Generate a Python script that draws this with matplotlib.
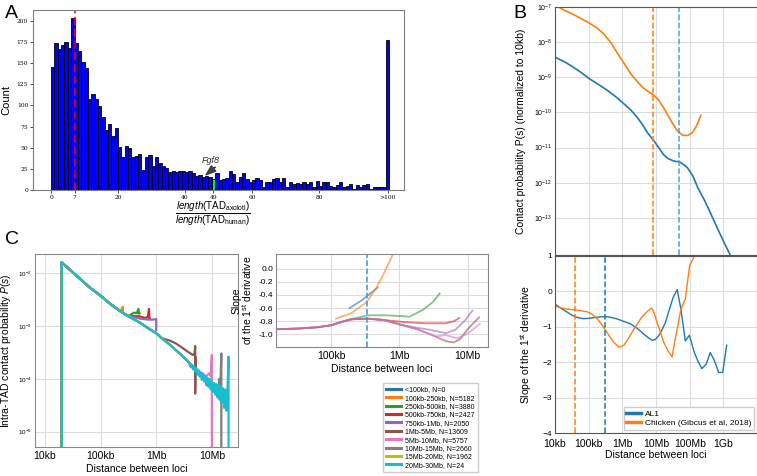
import numpy as np
import matplotlib.pyplot as plt
from matplotlib.ticker import NullLocator

plt.rcParams['font.family'] = ['Liberation Sans', 'DejaVu Sans']
plt.rcParams['mathtext.fontset'] = 'custom'
plt.rcParams['mathtext.rm'] = 'Liberation Sans'
plt.rcParams['mathtext.it'] = 'Liberation Sans:italic'

# ---- panel A: histogram of TAD length ratios (bin i = [i, i+1), last = >100)
counts_a = [146, 174, 167, 171, 175, 168, 203, 174, 164, 151,
            144, 108, 114, 108, 99, 86, 71, 78, 64, 73,
            51, 39, 52, 50, 39, 40, 43, 24, 39, 41,
            28, 39, 32, 28, 26, 21, 23, 21, 23, 22,
            21, 22, 20, 16, 18, 15, 17, 15, 13, 20,
            12, 13, 14, 22, 19, 9, 15, 20, 13, 9,
            12, 14, 12, 3, 9, 10, 13, 14, 9, 14,
            4, 10, 7, 8, 7, 9, 7, 9, 4, 11,
            5, 9, 10, 5, 4, 6, 9, 3, 5, 7,
            1, 6, 3, 6, 7, 1, 3, 3, 3, 3,
            177]
fgf8_bin = 48
median_ratio = 7
a_ticks = [0, 7, 20, 40, 48.5, 60, 80, 100.5]
a_ticklabels = ['0', '7', '20', '40', '49', '60', '80', '>100']

# ---- panel B: P(s) curves (log10 distance, log10 P)
b_al1_x = [4.0, 4.3, 4.54, 4.8, 5.0, 5.3, 5.55, 5.8, 6.03, 6.25, 6.44, 6.6, 6.74, 6.93, 7.1,
           7.22, 7.35, 7.49, 7.6, 7.68, 7.8, 7.93, 8.1, 8.24, 8.45, 8.63, 8.8, 9.0, 9.2]
b_al1_y = [-8.43, -8.57, -8.71, -8.88, -9.03, -9.21, -9.37, -9.55, -9.74, -9.93, -10.14, -10.35,
           -10.57, -10.8, -11.03, -11.2, -11.31, -11.37, -11.4, -11.4, -11.47, -11.57, -11.82,
           -12.14, -12.52, -12.89, -13.25, -13.66, -14.05]
b_chk_x = [4.0, 4.3, 4.6, 4.85, 5.04, 5.25, 5.43, 5.65, 5.85, 6.05, 6.24, 6.45, 6.63, 6.8,
           6.93, 7.08, 7.22, 7.35, 7.49, 7.6, 7.68, 7.8, 7.93, 8.05, 8.13, 8.23, 8.33]
b_chk_y = [-6.95, -7.1, -7.24, -7.37, -7.47, -7.6, -7.75, -8.0, -8.31, -8.6, -8.89, -9.13,
           -9.31, -9.43, -9.51, -9.65, -9.86, -10.08, -10.31, -10.48, -10.57, -10.65, -10.66,
           -10.6, -10.51, -10.33, -10.09]
b_al1_mark_top, b_chk_mark_top = 7.67, 6.90

# slope of the first derivative
b_al1_sx = [4.0, 4.2, 4.37, 4.52, 4.67, 4.85, 5.01, 5.25, 5.46, 5.65, 5.85, 6.05, 6.25, 6.45,
            6.64, 6.8, 6.89, 6.98, 7.08, 7.18, 7.28, 7.4, 7.51, 7.63, 7.74, 7.87, 7.99, 8.14,
            8.25, 8.36, 8.49, 8.61, 8.73, 8.86, 8.98, 9.1]
b_al1_sy = [-0.36, -0.49, -0.59, -0.68, -0.74, -0.77, -0.76, -0.73, -0.71, -0.73, -0.78,
            -0.85, -0.92, -1.05, -1.21, -1.33, -1.38, -1.36, -1.25, -1.08, -0.88, -0.5,
            -0.17, 0.05, -0.5, -1.4, -1.24, -1.73, -1.98, -2.18, -2.06, -1.73, -1.94, -2.29,
            -2.29, -1.52]
b_chk_sx = [4.0, 4.2, 4.37, 4.67, 4.97, 5.12, 5.26, 5.4, 5.51, 5.63, 5.75, 5.9, 6.05, 6.2,
            6.34, 6.47, 6.59, 6.75, 6.87, 6.95, 7.03, 7.13, 7.23, 7.35, 7.48, 7.55, 7.63,
            7.74, 7.87, 7.94, 8.0, 8.12, 8.2]
b_chk_sy = [-0.42, -0.47, -0.5, -0.53, -0.58, -0.66, -0.78, -0.95, -1.11, -1.28, -1.44,
            -1.58, -1.52, -1.3, -1.07, -0.88, -0.71, -0.56, -0.47, -0.62, -0.88, -1.15,
            -1.44, -1.67, -1.85, -1.45, -1.07, -0.5, -0.22, 0.3, 0.73, 0.96, 1.2]
b_al1_mark_bot, b_chk_mark_bot = 5.49, 4.60
b_xticks = [4, 5, 6, 7, 8, 9]
b_xlabels = ['10kb', '100kb', '1Mb', '10Mb', '100Mb', '1Gb']

# ---- panel C: intra-TAD P(s) per TAD size class (log10 distance, log10 P)
c_names = ['<100kb, N=0', '100kb-250kb, N=5182', '250kb-500kb, N=3880', '500kb-750kb, N=2427',
           '750kb-1Mb, N=2050', '1Mb-5Mb, N=13609', '5Mb-10Mb, N=5757', '10Mb-15Mb, N=2660',
           '15Mb-20Mb, N=1962', '20Mb-30Mb, N=24']
c_colors = ['#1f77b4', '#ff7f0e', '#2ca02c', '#d62728', '#9467bd',
            '#8c564b', '#e377c2', '#7f7f7f', '#bcbd22', '#17becf']
base_x = [4.30, 4.30, 4.45, 4.63, 4.8, 5.0, 5.17, 5.35, 5.52, 5.71, 5.85, 6.0, 6.12, 6.25,
          6.4, 6.55]
base_y = [-5.5, -1.80, -1.94, -2.11, -2.27, -2.43, -2.58, -2.72, -2.83, -2.94, -3.04, -3.14,
          -3.25, -3.36, -3.5, -3.65]
c_tail_x = [
    [],
    [5.37, 5.40, 5.40],
    [5.52, 5.6, 5.65, 5.68, 5.685, 5.70],
    [5.52, 5.7, 5.8, 5.85, 5.87, 5.875, 5.88],
    [5.52, 5.7, 5.85, 5.95, 6.0, 6.0],
    [6.12, 6.25, 6.35, 6.45, 6.57, 6.66, 6.69, 6.70, 6.70, 6.71],
    [6.7, 6.8, 6.9, 6.95, 6.98, 7.0, 7.0],
    [6.7, 6.85, 7.0, 7.1, 7.13, 7.135, 7.15, 7.17, 7.17],
    [6.7, 6.85, 7.0, 7.15, 7.3],
    [6.60, 6.62, 6.64, 6.66, 6.68, 6.70, 6.72, 6.74, 6.76, 6.78, 6.80, 6.82, 6.84, 6.86,
     6.88, 6.90, 6.92, 6.94, 6.96, 6.98, 7.00, 7.02, 7.04, 7.06, 7.08, 7.10, 7.12, 7.14,
     7.16, 7.18, 7.20, 7.22, 7.24, 7.26, 7.28, 7.30, 7.30],
]
c_tail_y = [
    [],
    [-2.70, -2.64, -2.70],
    [-2.80, -2.75, -2.76, -2.68, -2.77, -2.76],
    [-2.81, -2.82, -2.85, -2.83, -2.68, -2.87, -2.86],
    [-2.81, -2.86, -2.88, -2.88, -2.87, -3.08],
    [-3.24, -3.28, -3.33, -3.40, -3.49, -3.55, -3.52, -3.38, -4.28, -3.6],
    [-3.8, -3.88, -3.95, -3.90, -3.95, -3.55, -5.5],
    [-3.8, -3.95, -4.12, -4.25, -4.15, -4.0, -4.3, -3.52, -5.5],
    [-3.82, -3.98, -4.16, -4.3, -4.38],
    [-3.72, -3.78, -3.74, -3.82, -3.77, -3.86, -3.80, -3.92, -3.84, -3.96, -3.88, -4.02,
     -3.90, -4.05, -3.95, -4.12, -3.98, -4.15, -4.00, -4.20, -4.05, -4.25, -4.08, -4.30,
     -4.10, -4.35, -4.12, -4.40, -4.15, -4.45, -4.18, -4.55, -4.20, -4.60, -4.25, -3.58,
     -5.5],
]
c_base_len = [0, 8, 9, 9, 9, 13, 16, 16, 16, 16]

# slopes (log10 distance, slope)
cs_base_x = [4.21, 4.52, 4.8, 5.0, 5.15, 5.29, 5.53, 5.77, 6.05, 6.29, 6.53]
cs_base_y = [-0.92, -0.91, -0.89, -0.86, -0.81, -0.77, -0.76, -0.78, -0.86, -0.93, -1.03]
cs_x = [
    [5.27, 5.45, 5.68],
    [5.07, 5.29, 5.52, 5.67, 5.77, 5.88, 5.92],
    [5.25, 5.53, 5.81, 6.0, 6.15, 6.34, 6.49, 6.59],
    [6.05, 6.2, 6.37, 6.68, 6.80, 6.88],
    [6.45, 6.68, 6.82, 6.97, 7.07],
    [6.63, 6.72, 6.80, 6.89, 7.01, 7.17],
    [6.68, 6.85, 7.01, 7.18],
]
cs_y = [
    [-0.60, -0.48, -0.29],
    [-0.76, -0.68, -0.51, -0.28, -0.08, 0.16, 0.25],
    [-0.78, -0.71, -0.71, -0.72, -0.73, -0.63, -0.51, -0.38],
    [-0.81, -0.82, -0.83, -0.83, -0.80, -0.75],
    [-0.93, -0.98, -0.93, -0.78, -0.64],
    [-1.08, -1.11, -1.12, -1.07, -0.91, -0.74],
    [-1.01, -1.06, -0.98, -0.84],
]
cs_base_len = [0, 0, 0, 8, 9, 11, 11]
c_mark = 5.52
c_xticks = [4, 5, 6, 7]
c_xlabels = ['10kb', '100kb', '1Mb', '10Mb']

W, H = 757, 476
fig = plt.figure(figsize=(W / 100, H / 100), dpi=100)


def box(l, t, r, b):
    return [l / W, 1 - b / H, (r - l) / W, (b - t) / H]


grid_c = '#dcdcdc'

# ---------------- A
axA = fig.add_axes(box(33, 10, 404, 190))
bar_cols = ['#00ff00' if i == fgf8_bin else '#0000ff' for i in range(len(counts_a))]
axA.bar(np.arange(len(counts_a)), counts_a, width=1, align='edge', color=bar_cols,
        edgecolor='black', linewidth=0.6)
axA.axvline(median_ratio, color='red', ls='--', lw=1.6, alpha=0.75)
axA.set_xlim(-5.4, 105.4)
axA.set_ylim(0, 213)
axA.set_yticks(range(0, 201, 25))
axA.set_xticks(a_ticks)
axA.set_xticklabels(a_ticklabels)
for lab in axA.get_xticklabels() + axA.get_yticklabels():
    lab.set_family('DejaVu Serif')
    lab.set_fontsize(4.3)
axA.tick_params(length=2, width=0.5, pad=1.5)
for s in axA.spines.values():
    s.set_color('#808080')
axA.set_ylabel('Count', fontsize=8)
axA.yaxis.set_label_coords(-0.058, 0.5)
axA.annotate('', xy=(46.3, 18), xytext=(49.0, 27),
             arrowprops=dict(facecolor='#404040', edgecolor='#404040', width=0.1,
                             headwidth=5, headlength=7))
axA.text(47.8, 30, 'Fgf8', fontsize=6.5, style='italic', ha='center', va='bottom',
         color='#333333')
fig.text(213 / W, 1 - 214 / H,
         r'$\frac{\mathit{length}(\mathrm{TAD}_{\mathrm{axolotl}})}'
         r'{\mathit{length}(\mathrm{TAD}_{\mathrm{human}})}$',
         fontsize=10, ha='center', va='center')

# ---------------- B top
axB1 = fig.add_axes(box(555, 7, 757, 255))
axB1.plot(10 ** np.array(b_al1_x), 10 ** np.array(b_al1_y), color='#1f77b4', lw=1.2)
axB1.plot(10 ** np.array(b_chk_x), 10 ** np.array(b_chk_y), color='#ff7f0e', lw=1.2)
axB1.axvline(10 ** b_chk_mark_top, color='#ff7f0e', ls='--', lw=1.1)
axB1.axvline(10 ** b_al1_mark_top, color='#4a9fd8', ls='--', lw=1.1)
axB1.set_xscale('log')
axB1.set_yscale('log')
axB1.set_xlim(1e4, 1e10)
axB1.set_ylim(10 ** -14.06, 1e-7)
axB1.set_yticks([10.0 ** e for e in range(-13, -6)])
axB1.xaxis.set_minor_locator(NullLocator())
axB1.yaxis.set_minor_locator(NullLocator())
axB1.set_xticks([10.0 ** e for e in b_xticks])
axB1.set_xticklabels([])
axB1.tick_params(axis='y', labelsize=5, length=0, pad=2)
axB1.tick_params(axis='x', length=0)
axB1.grid(True, color=grid_c, lw=0.8)
axB1.set_ylabel('Contact probability P(s) (normalized to 10kb)', fontsize=7.5, labelpad=6)
for s in axB1.spines.values():
    s.set_color('#555555')

# ---------------- B bottom
axB2 = fig.add_axes(box(555, 256, 757, 433))
axB2.plot(10 ** np.array(b_al1_sx), b_al1_sy, color='#1f77b4', lw=1.0, label='AL1')
axB2.plot(10 ** np.array(b_chk_sx), b_chk_sy, color='#ff7f0e', lw=1.0,
          label='Chicken (Gibcus et al, 2018)')
axB2.axvline(10 ** b_chk_mark_bot, color='#ff7f0e', ls='--', lw=1.1)
axB2.axvline(10 ** b_al1_mark_bot, color='#1f77b4', ls='--', lw=1.1)
axB2.set_xscale('log')
axB2.set_xlim(1e4, 1e10)
axB2.set_ylim(-4, 1)
axB2.xaxis.set_minor_locator(NullLocator())
axB2.set_xticks([10.0 ** e for e in b_xticks])
axB2.set_xticklabels(b_xlabels)
axB2.set_yticks(range(-4, 2))
axB2.tick_params(axis='y', labelsize=6, length=0, pad=2)
axB2.tick_params(axis='x', labelsize=7.5, length=0, pad=4)
axB2.grid(True, color=grid_c, lw=0.8)
axB2.set_ylabel('Slope of the 1$^{\\mathrm{st}}$ derivative', fontsize=7.5, labelpad=6)
axB2.set_xlabel('Distance between loci', fontsize=7.5, labelpad=1)
for s in axB2.spines.values():
    s.set_color('#555555')
legB = axB2.legend(loc='lower right', fontsize=6, handlelength=1.8, borderpad=0.3,
                   labelspacing=0.2, handletextpad=0.4, borderaxespad=0.4, framealpha=1,
                   edgecolor='#cccccc', fancybox=False)
for ln in legB.get_lines():
    ln.set_linewidth(2.5)

# ---------------- C left
axC1 = fig.add_axes(box(35, 254, 238, 447))
c_lines = []
for i in range(len(c_names)):
    xs = base_x[:c_base_len[i]] + c_tail_x[i]
    ys = base_y[:c_base_len[i]] + c_tail_y[i]
    ln, = axC1.plot(10 ** np.array(xs), 10 ** np.array(ys), color=c_colors[i], lw=1.6,
                    label=c_names[i])
    c_lines.append(ln)
axC1.set_xscale('log')
axC1.set_yscale('log')
axC1.set_xlim(10 ** 3.82, 10 ** 7.47)
axC1.set_ylim(10 ** -5.29, 10 ** -1.64)
axC1.xaxis.set_minor_locator(NullLocator())
axC1.yaxis.set_minor_locator(NullLocator())
axC1.set_xticks([10.0 ** e for e in c_xticks])
axC1.set_xticklabels(c_xlabels)
axC1.set_yticks([1e-5, 1e-4, 1e-3, 1e-2])
axC1.tick_params(axis='y', labelsize=4.5, length=0, pad=2)
axC1.tick_params(axis='x', labelsize=7.5, length=0, pad=3)
axC1.grid(True, color=grid_c, lw=0.8)
axC1.set_ylabel('Intra-TAD contact probability $\\mathit{P(s)}$', fontsize=7.5, labelpad=4)
axC1.set_xlabel('Distance between loci', fontsize=7.5, labelpad=2)
for s in axC1.spines.values():
    s.set_color('#888888')

# ---------------- C middle
axC2 = fig.add_axes(box(276, 254, 488, 347))
for i in range(len(cs_x)):
    xs = cs_base_x[:cs_base_len[i]] + cs_x[i]
    ys = cs_base_y[:cs_base_len[i]] + cs_y[i]
    axC2.plot(10 ** np.array(xs), ys, color=c_colors[i], lw=1.3, alpha=0.6)
axC2.axvline(10 ** c_mark, color='#3a95d5', ls='--', lw=1.1)
axC2.set_xscale('log')
axC2.set_xlim(10 ** 4.19, 10 ** 7.3)
axC2.set_ylim(-1.19, 0.22)
axC2.xaxis.set_minor_locator(NullLocator())
axC2.set_xticks([10.0 ** e for e in c_xticks[1:]])
axC2.set_xticklabels(c_xlabels[1:])
axC2.set_yticks([0.0, -0.2, -0.4, -0.6, -0.8, -1.0])
axC2.set_yticklabels(['0.0', '-0.2', '-0.4', '-0.6', '-0.8', '-1.0'])
axC2.tick_params(axis='y', labelsize=6, length=0, pad=2)
axC2.tick_params(axis='x', labelsize=7.5, length=0, pad=3)
axC2.grid(True, color=grid_c, lw=0.8)
axC2.set_ylabel('Slope\nof the 1$^{\\mathrm{st}}$ derivative', fontsize=7.5, labelpad=3,
                linespacing=0.9)
axC2.set_xlabel('Distance between loci', fontsize=7.5, labelpad=2)
for s in axC2.spines.values():
    s.set_color('#888888')

legC = fig.legend(handles=c_lines, loc='upper right', bbox_to_anchor=(481 / W, 1 - 380 / H),
                  fontsize=5.0, handlelength=2.2, labelspacing=0.2, borderpad=0.4,
                  handletextpad=0.6, framealpha=1, edgecolor='#cccccc', fancybox=False)
for ln in legC.get_lines():
    ln.set_linewidth(2.2)

# ---------------- panel letters
fig.text(5 / W, 1 - 13 / H, 'A', fontsize=14, va='center', ha='left')
fig.text(513 / W, 1 - 13 / H, 'B', fontsize=14, va='center', ha='left')
fig.text(5 / W, 1 - 240 / H, 'C', fontsize=14, va='center', ha='left')

fig.savefig('out.png', dpi=100)
